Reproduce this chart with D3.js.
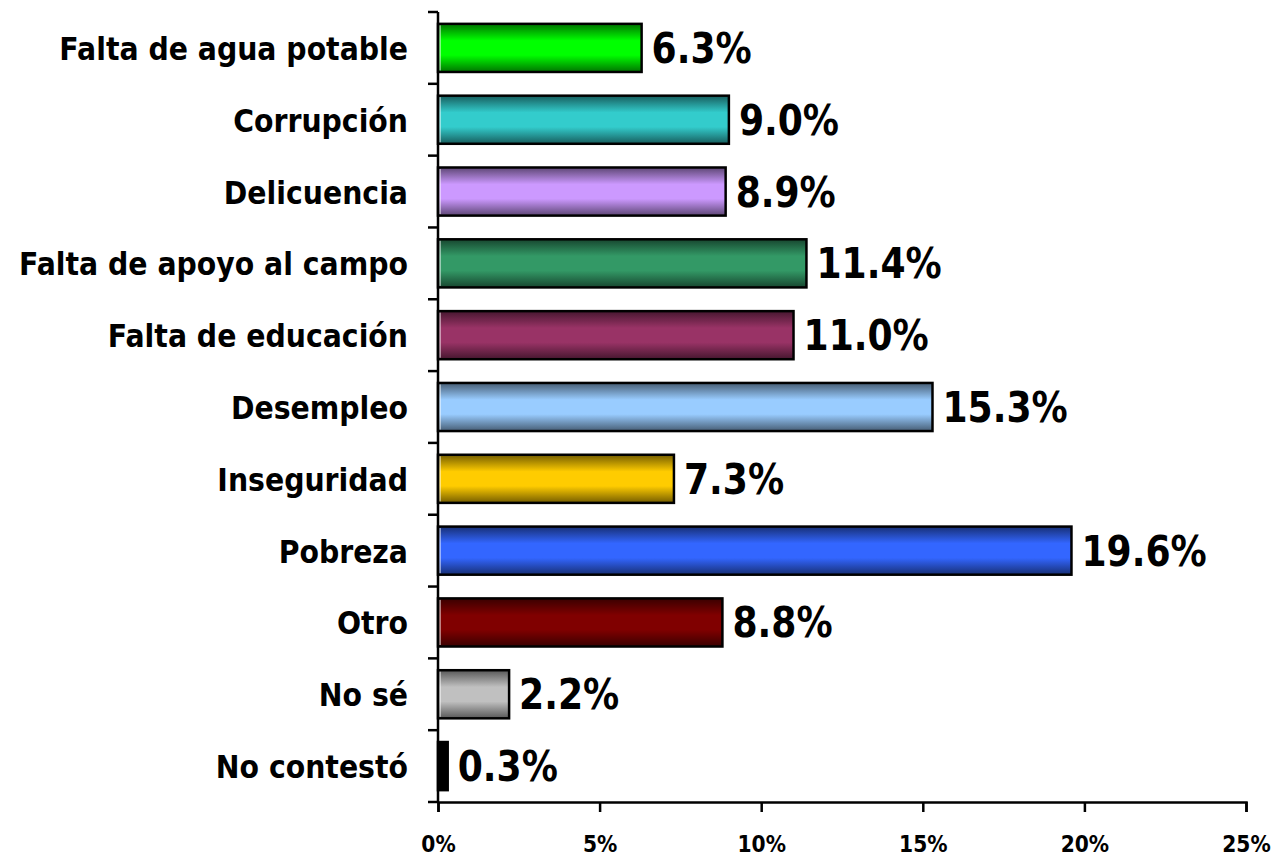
<!DOCTYPE html>
<html><head><meta charset="utf-8">
<script src="https://cdn.jsdelivr.net/npm/d3@7"></script>
<style>body{margin:0;background:#fff}svg{display:block}</style>
</head><body><svg id="c" width="1274" height="859"></svg>
<script>
const categories = ["Falta de agua potable","Corrupción","Delicuencia","Falta de apoyo al campo","Falta de educación","Desempleo","Inseguridad","Pobreza","Otro","No sé","No contestó"];
const values = [6.3, 9.0, 8.9, 11.4, 11.0, 15.3, 7.3, 19.6, 8.8, 2.2, 0.3];
const colors = ["#00FF00","#33CCCC","#CC99FF","#339966","#993366","#99CCFF","#FFCC00","#3366FF","#800000","#C0C0C0","#000000"];
const xTicks = [0, 5, 10, 15, 20, 25];

const svg = d3.select("#c");
const m = {left: 438, right: 1246, top: 12, bottom: 802};
const x = d3.scaleLinear().domain([0, 25]).range([m.left, m.right]);
const y = d3.scaleBand().domain(categories).range([m.top, m.bottom]).paddingInner(0.33).paddingOuter(0.165);
const font = "'DejaVu Sans', Verdana, sans-serif";

const defs = svg.append("defs");
colors.forEach((c, i) => {
  const dark = d3.rgb(c).darker(2.2).formatHex();
  const g = defs.append("linearGradient").attr("id", "g" + i).attr("x1", 0).attr("y1", 0).attr("x2", 0).attr("y2", 1);
  g.append("stop").attr("offset", "0").attr("stop-color", dark);
  g.append("stop").attr("offset", "0.35").attr("stop-color", c);
  g.append("stop").attr("offset", "0.65").attr("stop-color", c);
  g.append("stop").attr("offset", "1").attr("stop-color", dark);
});

// bars
const bars = svg.append("g");
categories.forEach((cat, i) => {
  bars.append("rect")
    .attr("x", x(0)).attr("y", y(cat))
    .attr("width", x(values[i]) - x(0)).attr("height", y.bandwidth())
    .attr("fill", `url(#g${i})`).attr("stroke", "#000").attr("stroke-width", 2.5);
  bars.append("line")
    .attr("x1", x(0) + 2).attr("x2", x(0) + 2)
    .attr("y1", y(cat) + 1.5).attr("y2", y(cat) + y.bandwidth() - 1.5)
    .attr("stroke", "#fff").attr("stroke-width", 1).attr("opacity", values[i] > 0.5 ? 1 : 0);
});

// value labels
categories.forEach((cat, i) => {
  const cx = x(values[i]) + 10;
  const cy = y(cat) + y.bandwidth() / 2 + 15;
  svg.append("text")
    .attr("transform", `translate(${cx},${cy}) scale(0.86,1)`)
    .attr("font-family", font).attr("font-weight", "bold").attr("font-size", 42)
    .attr("fill", "#000")
    .text(values[i].toFixed(1) + "%");
});

// y axis
const yAxisG = svg.append("g");
yAxisG.append("line").attr("x1", m.left).attr("x2", m.left).attr("y1", m.top).attr("y2", m.bottom)
  .attr("stroke", "#000").attr("stroke-width", 2.5);
const step = (m.bottom - m.top) / categories.length;
d3.range(categories.length + 1).forEach(k => {
  const yy = m.top + k * step;
  yAxisG.append("line").attr("x1", m.left - 10).attr("x2", m.left).attr("y1", yy).attr("y2", yy)
    .attr("stroke", "#000").attr("stroke-width", 2.5);
});
categories.forEach(cat => {
  const cy = y(cat) + y.bandwidth() / 2 + 12;
  yAxisG.append("text")
    .attr("transform", `translate(${m.left - 30},${cy}) scale(0.9,1)`)
    .attr("text-anchor", "end")
    .attr("font-family", font).attr("font-weight", "bold").attr("font-size", 31.5)
    .text(cat);
});

// x axis
const xAxis = d3.axisBottom(x).tickValues(xTicks).tickSize(10).tickFormat(d => d + "%");
const xg = svg.append("g").attr("transform", `translate(0,${m.bottom})`).call(xAxis);
xg.select(".domain").attr("stroke", "#000").attr("stroke-width", 2.5);
xg.selectAll(".tick line").attr("stroke", "#000").attr("stroke-width", 2.5);
xg.selectAll(".tick text")
  .attr("y", 0).attr("dy", 0)
  .attr("transform", "translate(0,50) scale(0.88,1)")
  .attr("font-family", font).attr("font-weight", "bold").attr("font-size", 23).attr("fill", "#000");
</script>
</body></html>
